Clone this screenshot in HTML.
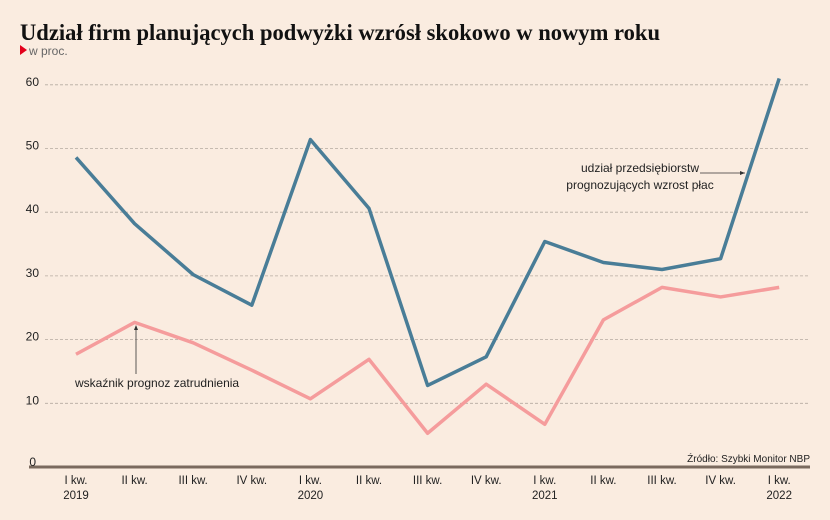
<!DOCTYPE html>
<html><head><meta charset="utf-8"><style>
body{margin:0;background:#faece0;}
svg{display:block;font-family:"Liberation Sans",sans-serif;}
</style></head><body>
<svg width="830" height="520" viewBox="0 0 830 520">
<rect width="830" height="520" fill="#faece0"/>
<text x="20" y="40" font-family="Liberation Serif,serif" font-weight="bold" font-size="23" fill="#111" textLength="640" lengthAdjust="spacingAndGlyphs">Udział firm planujących podwyżki wzrósł skokowo w nowym roku</text>
<path d="M20 45 L27 50 L20 55 Z" fill="#e3001b"/>
<text x="29" y="55" font-size="12" fill="#666">w proc.</text>
<g id="grid"></g><g id="xlabels"></g>
<path id="pinkLine" fill="none" stroke="#f59c9c" stroke-width="3.5" stroke-linejoin="round"/>
<path id="blueLine" fill="none" stroke="#497d97" stroke-width="3.5" stroke-linejoin="round"/>
<line x1="700" y1="173" x2="745" y2="173" stroke="#333" stroke-width="0.8"/>
<path d="M745 173 l-5 -2 v4 z" fill="#333"/>
<text x="640" y="172" font-size="12" fill="#222" text-anchor="middle"><tspan x="640">udział przedsiębiorstw</tspan><tspan x="640" dy="17">prognozujących wzrost płac</tspan></text>
<line x1="136" y1="326" x2="136" y2="374" stroke="#333" stroke-width="0.8"/>
<path d="M136 325 l-2 5 h4 z" fill="#333"/>
<text x="75" y="387" font-size="12" fill="#222">wskaźnik prognoz zatrudnienia</text>
<text x="810" y="462" font-size="10" fill="#222" text-anchor="end">Źródło: Szybki Monitor NBP</text>
</svg>
<script>
const categories=["I kw.|2019","II kw.","III kw.","IV kw.","I kw.|2020","II kw.","III kw.","IV kw.","I kw.|2021","II kw.","III kw.","IV kw.","I kw.|2022"];
const wageShare=[48.6,38.2,30.2,25.4,51.4,40.6,12.8,17.3,35.4,32.1,31.0,32.7,61.0];
const employment=[17.7,22.7,19.5,15.2,10.7,16.9,5.3,13.0,6.7,23.1,28.2,26.7,28.2];
const yTicks=[0,10,20,30,40,50,60];
const NS="http://www.w3.org/2000/svg";
const x=i=>76+i*58.6;
const y=v=>467-v*6.37;
const grid=document.getElementById('grid');
yTicks.forEach(t=>{
  const l=document.createElementNS(NS,'line');
  
  
  l.setAttribute('x1',t===0?29:45);l.setAttribute('x2',810);
  l.setAttribute('y1',y(t));l.setAttribute('y2',y(t));
  if(t===0){l.setAttribute('stroke','#7a6a5e');l.setAttribute('stroke-width','3');}
  else{l.setAttribute('stroke','#b5aaa0');l.setAttribute('stroke-dasharray','3 2');l.setAttribute('stroke-width','0.8');}
  grid.appendChild(l);
  const tx=document.createElementNS(NS,'text');
  
  
  tx.setAttribute('x',t===0?36:39);tx.setAttribute('y',y(t)+(t===0?-1:1));
  tx.setAttribute('text-anchor','end');tx.setAttribute('font-size','12');tx.setAttribute('fill','#222');
  tx.textContent=t;grid.appendChild(tx);
});
const xl=document.getElementById('xlabels');
categories.forEach((c,i)=>{
  c.split('|').forEach((s,j)=>{
    const tx=document.createElementNS(NS,'text');
    
    
    tx.setAttribute('x',x(i));tx.setAttribute('y',484+j*15);
    tx.setAttribute('text-anchor','middle');tx.setAttribute('font-size','11.5');tx.setAttribute('fill','#222');
    tx.textContent=s;xl.appendChild(tx);
  });
});
const path=a=>a.map((v,i)=>(i?'L':'M')+x(i)+' '+y(v)).join(' ');
document.getElementById('blueLine').setAttribute('d',path(wageShare));
document.getElementById('pinkLine').setAttribute('d',path(employment));
</script>
</body></html>
